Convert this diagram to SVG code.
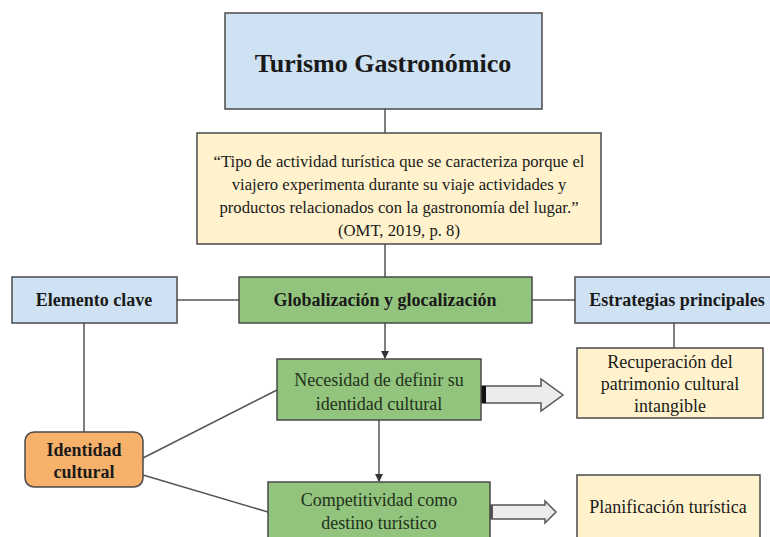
<svg xmlns="http://www.w3.org/2000/svg" width="770" height="537" viewBox="0 0 770 537">
<defs>
<style>
.box{stroke:#4a4a4a;stroke-width:1.5}
.blue{fill:#cfe2f3}
.yellow{fill:#fff2cc}
.green{fill:#93c47d}
.orange{fill:#f6b26b}
text{font-family:"Liberation Serif","Times New Roman",serif;fill:#1a1a1a;text-anchor:middle}
.b{font-weight:bold;font-size:18px}
.q{font-size:16.7px}
.t{font-size:18px}
.dg{fill:#1e321a}
.ln{stroke:#555;stroke-width:1.5;fill:none}
.blk{fill:#ececec;stroke:#555;stroke-width:1.5}
</style>
<marker id="ah" markerWidth="8" markerHeight="8" refX="7" refY="4" orient="auto" markerUnits="userSpaceOnUse">
<path d="M0,0 L8,4 L0,8 z" fill="#333"/>
</marker>
</defs>
<rect width="770" height="537" fill="#ffffff"/>
<g id="connectors">
<line class="ln" x1="385" y1="109" x2="385" y2="133"/>
<line class="ln" x1="385" y1="222" x2="385" y2="277"/>
<line class="ln" x1="177" y1="300" x2="239" y2="300"/>
<line class="ln" x1="532" y1="300" x2="575" y2="300"/>
<line class="ln" x1="674" y1="323" x2="674" y2="348"/>
<line class="ln" x1="385" y1="323" x2="385" y2="358" marker-end="url(#ah)"/>
<line class="ln" x1="379" y1="420" x2="379" y2="481" marker-end="url(#ah)"/>
<line class="ln" x1="84" y1="323" x2="84" y2="432"/>
<line class="ln" x1="143" y1="458" x2="277" y2="390"/>
<line class="ln" x1="143" y1="475" x2="268" y2="512"/>
<path class="blk" d="M482,386 L541,386 L541,379 L563,395 L541,411 L541,403 L482,403 z"/>
<rect x="481" y="386" width="5" height="17" fill="#111"/>
<path class="blk" d="M491,505 L545,505 L545,501 L556,512 L545,523 L545,519 L491,519 z"/>
<rect x="490" y="505" width="3" height="14" fill="#555"/>
</g>
<g id="titulo">
<rect class="box blue" x="225" y="13" width="317" height="96"/>
<text x="383" y="72" font-size="26" font-weight="bold">Turismo Gastronómico</text>
</g>
<g id="definicion">
<rect class="box yellow" x="197" y="133" width="404" height="111"/>
<text class="q" x="399" y="167">“Tipo de actividad turística que se caracteriza porque el</text>
<text class="q" x="399" y="190">viajero experimenta durante su viaje actividades y</text>
<text class="q" x="399" y="213">productos relacionados con la gastronomía del lugar.”</text>
<text class="q" x="399" y="236">(OMT, 2019, p. 8)</text>
</g>
<g id="elemento-clave">
<rect class="box blue" x="12" y="277" width="165" height="46"/>
<text class="b" x="94" y="306">Elemento clave</text>
</g>
<g id="globalizacion">
<rect class="box green" x="239" y="277" width="293" height="46"/>
<text class="b" x="385" y="306">Globalización y glocalización</text>
</g>
<g id="estrategias">
<rect class="box blue" x="575" y="277" width="200" height="46"/>
<text class="b" x="677" y="306">Estrategias principales</text>
</g>
<g id="recuperacion">
<rect class="box yellow" x="577" y="348" width="186" height="70"/>
<text class="t" x="670" y="368">Recuperación del</text>
<text class="t" x="670" y="390">patrimonio cultural</text>
<text class="t" x="670" y="412">intangible</text>
</g>
<g id="necesidad">
<rect class="box green" x="277" y="359" width="204" height="61"/>
<text class="t dg" x="379" y="386">Necesidad de definir su</text>
<text class="t dg" x="379" y="410">identidad cultural</text>
</g>
<g id="identidad">
<rect class="box orange" x="25" y="432" width="118" height="55" rx="9"/>
<text class="b" x="84" y="456">Identidad</text>
<text class="b" x="84" y="478">cultural</text>
</g>
<g id="competitividad">
<rect class="box green" x="268" y="482" width="222" height="60"/>
<text class="t dg" x="379" y="506">Competitividad como</text>
<text class="t dg" x="379" y="529">destino turístico</text>
</g>
<g id="planificacion">
<rect class="box yellow" x="577" y="475" width="183" height="66"/>
<text class="t" x="668" y="513">Planificación turística</text>
</g>
</svg>
